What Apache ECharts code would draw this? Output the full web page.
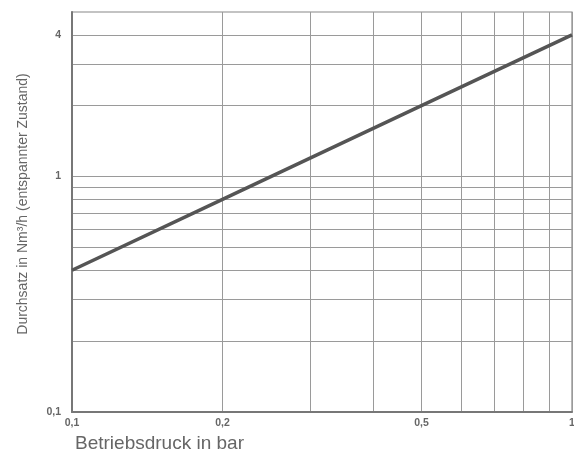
<!DOCTYPE html>
<html>
<head>
<meta charset="utf-8">
<script src="https://cdn.jsdelivr.net/npm/echarts@6/dist/echarts.min.js"></script>
<style>
html,body{margin:0;padding:0;background:#fff;}
#chart{width:574px;height:454px;}
</style>
</head>
<body>
<div id="chart"></div>
<script>
// Data
var pressure = [0.1, 0.2, 0.5, 1];          // Betriebsdruck in bar
var flow = [0.4, 0.8, 2, 4];                 // Durchsatz in Nm³/h
var xGridValues = [0.1, 0.2, 0.3, 0.4, 0.5, 0.6, 0.7, 0.8, 0.9, 1];
var xLabelValues = [0.1, 0.2, 0.5, 1];
var yGridValues = [0.2, 0.3, 0.4, 0.5, 0.6, 0.7, 0.8, 0.9, 1, 2, 3, 4];
var yLabelValues = [0.1, 1, 4];
var xTitle = 'Betriebsdruck in bar';
var yTitle = 'Durchsatz in Nm³/h (entspannter Zustand)';

var seriesData = pressure.map(function (p, i) { return [p, flow[i]]; });
function fmt(v) { return String(+v.toFixed(6)).replace('.', ','); }

var chart = echarts.init(document.getElementById('chart'), null, {renderer: 'canvas'});
chart.setOption({
  animation: false,
  backgroundColor: '#fff',
  grid: {left: 72, right: 2, top: 12, bottom: 42, show: true, borderColor: '#888', borderWidth: 1.2, containLabel: false, outerBoundsMode: 'none'},
  xAxis: {
    type: 'log', logBase: 10, min: 0.1, max: 1,
    axisLine: {show: true, onZero: false, lineStyle: {color: '#777', width: 2}},
    axisTick: {show: false, customValues: xGridValues},
    axisLabel: {customValues: xLabelValues, formatter: fmt, color: '#666', fontSize: 10.5, fontWeight: 'bold', fontFamily: 'Liberation Sans, Arial, sans-serif', margin: 6, showMinLabel: true, showMaxLabel: true, hideOverlap: false},
    splitLine: {show: true, lineStyle: {color: '#9a9a9a', width: 1}},
    minorTick: {show: false}, minorSplitLine: {show: false}
  },
  yAxis: {
    type: 'log', logBase: 10, min: 0.1, max: 5,
    axisLine: {show: true, onZero: false, lineStyle: {color: '#777', width: 2}},
    axisTick: {show: false, customValues: yGridValues},
    axisLabel: {customValues: yLabelValues, formatter: fmt, color: '#666', fontSize: 10.5, fontWeight: 'bold', fontFamily: 'Liberation Sans, Arial, sans-serif', margin: 11, showMinLabel: true, showMaxLabel: true},
    splitLine: {show: true, lineStyle: {color: '#9a9a9a', width: 1}},
    minorTick: {show: false}, minorSplitLine: {show: false}
  },
  series: [{
    type: 'line',
    data: seriesData,
    showSymbol: false,
    symbol: 'none',
    lineStyle: {color: '#555', width: 3.5},
    z: 5
  }],
  graphic: [
    {type: 'text', x: 75, y: 453, style: {text: xTitle, fill: '#666', font: '19px "Liberation Sans", Arial, sans-serif', textAlign: 'left', textVerticalAlign: 'bottom'}},
    {type: 'text', x: 23, y: 204, rotation: Math.PI / 2, style: {text: yTitle, fill: '#666', font: '14px "Liberation Sans", Arial, sans-serif', textAlign: 'center', textVerticalAlign: 'middle'}}
  ]
});
</script>
</body>
</html>
